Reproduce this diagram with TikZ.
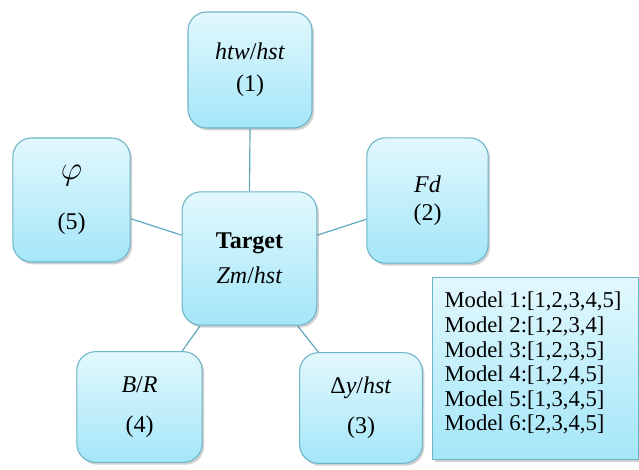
\documentclass[tikz,border=0pt]{standalone}
\usepackage{fontspec}
\setmainfont{Liberation Serif}
\usetikzlibrary{shadows}
\pgfdeclarelayer{background}
\pgfsetlayers{background,main}
\definecolor{boxtop}{RGB}{226,248,253}
\definecolor{boxbot}{RGB}{164,230,248}
\definecolor{boxedge}{RGB}{108,180,200}
\definecolor{linkc}{RGB}{96,168,188}
\begin{document}
\begin{tikzpicture}[x=0.75pt,y=-0.75pt,
  shade/.style={top color=boxtop, bottom color=boxbot, draw=boxedge, line width=0.8pt,
    drop shadow={shadow xshift=1.5pt, shadow yshift=-1.8pt, opacity=0.3, fill=black!60}},
  tbox/.style={shade, rectangle, rounded corners=14pt, align=center, inner sep=0pt},
  lead/.style={font=\fontsize{18}{#1}\selectfont},
  link/.style={draw=linkc, line width=0.9pt}]
\useasboundingbox (0,0) rectangle (639,469);

\node[tbox, minimum width=93pt, minimum height=87pt, lead=24pt] (b1) at (250,70)
  {\textit{htw}/\textit{hst}\\(1)};
\node[tbox, minimum width=101pt, minimum height=100pt, lead=26pt] (t) at (249.5,258.5)
  {\textbf{Target}\\\textit{Zm}/\textit{hst}};
\node[tbox, minimum width=88pt, minimum height=93pt, lead=37pt] (b5) at (71.5,200)
  {{\fontsize{27}{27}\selectfont$\varphi$}\\(5)};
\node[tbox, minimum width=91pt, minimum height=94pt, lead=21pt] (b2) at (427.5,200.5)
  {\textit{Fd}\\(2)};
\node[tbox, minimum width=94pt, minimum height=83pt, lead=30pt] (b4) at (139.5,407)
  {\textit{B}/\textit{R}\\(4)};
\node[tbox, minimum width=92pt, minimum height=83pt, lead=30pt] (b3) at (361,408)
  {\textup{Δ}\textit{y}/\textit{hst}\\(3)};

\node[shade, rectangle, minimum width=154pt, minimum height=136pt, inner sep=0pt] (models) at (535.5,368.5) {};
\node[anchor=north west, inner sep=0pt, align=left, font=\fontsize{17}{18.4}\selectfont] (mtext)
  at ([xshift=9pt,yshift=-11pt]models.north west)
  {Model 1:[1,2,3,4,5]\\Model 2:[1,2,3,4]\\Model 3:[1,2,3,5]\\Model 4:[1,2,4,5]\\Model 5:[1,3,4,5]\\Model 6:[2,3,4,5]};

\begin{pgfonlayer}{background}
  \draw[link] (b1.south) -- (t.north);
  \draw[link] ([yshift=-14pt]b5.east) -- ([yshift=17.5pt]t.west);
  \draw[link] ([yshift=-14pt]b2.west) -- ([yshift=17.5pt]t.east);
  \draw[link] ([xshift=32pt]b4.north) -- ([xshift=-37pt]t.south);
  \draw[link] ([xshift=-32pt]b3.north) -- ([xshift=36pt]t.south);
\end{pgfonlayer}
\end{tikzpicture}
\end{document}
